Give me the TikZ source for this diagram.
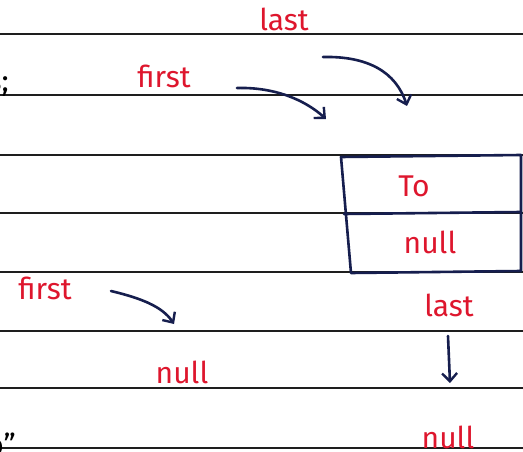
\documentclass[tikz,border=0pt]{standalone}
\usepackage{fontspec}
\setmainfont{Fira Sans}
\usetikzlibrary{arrows.meta}
\definecolor{inkred}{RGB}{222,22,45}
\definecolor{inknavy}{RGB}{22,30,78}
\definecolor{rule}{RGB}{30,30,30}
\tikzset{
  redtxt/.style={text=inkred, font=\fontsize{30}{32}\selectfont, inner sep=0pt},
  blktxt/.style={text=black, font=\fontsize{30}{32}\selectfont, inner sep=0pt},
  ruleline/.style={draw=rule, line width=1.6pt},
  ink/.style={draw=inknavy, line width=2.6pt, line cap=round, line join=round},
  inkarrow/.style={ink, -{Straight Barb[length=8pt,width=15pt,line width=2.4pt]}}
}
\begin{document}
\begin{tikzpicture}[x=1pt,y=-1pt]
\useasboundingbox (0,0) rectangle (523,452);
\fill[white] (0,0) rectangle (523,452);
\begin{scope}
\clip (0,0) rectangle (523,452);
% ruled lines
\foreach \yy in {34,95,155,213,272,331,388,448}
  \draw[ruleline] (0,\yy) -- (523,\yy);
% fragments at left edge
\node[blktxt, anchor=east] (fragA) at (9,86) {s;};
\node[blktxt, anchor=east] (fragB) at (16,444) {o"};
% node box
\draw[ink] (341,157) -- (521,155) -- (521,271) -- (351,273) -- cycle;
\draw[ink] (344,214) -- (521,212);
% texts
\node[redtxt] (last1) at (284,19) {last};
\node[redtxt] (first1) at (164,76) {first};
\node[redtxt] (to) at (414,186) {To};
\node[redtxt] (null1) at (430,242) {null};
\node[redtxt] (first2) at (45,288) {first};
\node[redtxt] (last2) at (449,305) {last};
\node[redtxt] (null2) at (182,372) {null};
\node[redtxt] (null3) at (448,437) {null};
% arrow end points
\coordinate (a1s) at (237,88);
\coordinate (a1e) at (326,119);
\coordinate (a2s) at (323,57);
\coordinate (a2e) at (407,106);
\coordinate (a3s) at (111,291);
\coordinate (a3e) at (174,324);
\coordinate (a4s) at (448,336);
\coordinate (a4e) at (450,383);
\draw[inkarrow] (a1s) .. controls (275,87) and (305,100) .. (a1e);
\draw[inkarrow] (a2s) .. controls (368,56) and (396,72) .. (a2e);
\draw[inkarrow] (a3s) .. controls (140,298) and (162,306) .. (a3e);
\draw[inkarrow] (a4s) -- (a4e);
\end{scope}
\end{tikzpicture}
\end{document}
